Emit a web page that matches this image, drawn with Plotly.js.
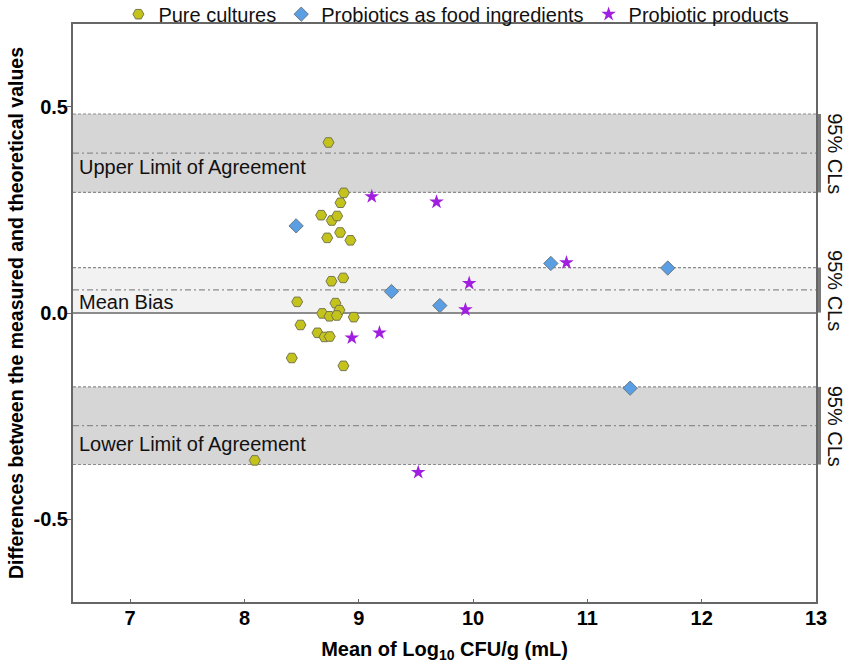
<!DOCTYPE html>
<html>
<head>
<meta charset="utf-8">
<script src="https://cdn.plot.ly/plotly-3.0.1.min.js"></script>
<style>
    html, body { margin: 0; padding: 0; background: #fff; }
    #baPlot { width: 851px; height: 667px; }
</style>
</head>
<body>
<div id="baPlot"></div>
<script>
// === DATA ===
// Pure cultures
const pureX = [8.735, 8.869, 8.840, 8.671, 8.764, 8.811, 8.837, 8.724, 8.927, 8.864,
               8.761, 8.461, 8.796, 8.831, 8.680, 8.744, 8.808, 8.956, 8.490, 8.639,
               8.700, 8.746, 8.414, 8.866, 8.090];
const pureY = [0.413, 0.291, 0.267, 0.237, 0.224, 0.235, 0.195, 0.182, 0.176, 0.085,
               0.077, 0.027, 0.024, 0.007, -0.001, -0.008, -0.006, -0.010, -0.029, -0.048,
               -0.058, -0.057, -0.109, -0.128, -0.357];

// Probiotics as food ingredients
const ingX = [8.452, 9.286, 9.709, 10.680, 11.703, 11.374];
const ingY = [0.211, 0.052, 0.018, 0.120, 0.109, -0.182];

// Probiotic products
const prodX = [9.114, 9.680, 9.966, 9.933, 8.939, 9.181, 10.817, 9.520];
const prodY = [0.282, 0.269, 0.072, 0.008, -0.060, -0.048, 0.122, -0.386];

// Limits of agreement, mean bias and their 95% CLs
const bandNames = ['Upper Limit of Agreement', 'Mean Bias', 'Lower Limit of Agreement'];
const bandLow   = [0.292, 0.001, -0.367];
const bandMid   = [0.387, 0.056, -0.273];
const bandHigh  = [0.482, 0.110, -0.179];

// Axis ticks
const yTickVals = [-0.5, 0, 0.5];
const yTickText = ['-0.5', '0.0', '0.5'];
const xTickVals = [7, 8, 9, 10, 11, 12, 13];

document.addEventListener('DOMContentLoaded', function() {
    buildPlot();
});

// === BUILD CHART ===
function buildPlot() {
    const font = 'Liberation Sans, Arial, Helvetica, sans-serif';
    const edgeColor = '#8c8c8c';

    const tracePure = {
        x: pureX, y: pureY,
        type: 'scatter', mode: 'markers',
        name: 'Pure cultures',
        marker: { symbol: 'hexagon2', size: 11, color: '#c3c31c',
                  line: { color: '#76764e', width: 1 } }
    };
    const traceIng = {
        x: ingX, y: ingY,
        type: 'scatter', mode: 'markers',
        name: 'Probiotics as food ingredients',
        marker: { symbol: 'diamond', size: 11, color: '#5a9fe4',
                  line: { color: '#6b7886', width: 1 } }
    };
    const traceProd = {
        x: prodX, y: prodY,
        type: 'scatter', mode: 'markers',
        name: 'Probiotic products',
        marker: { symbol: 'star', size: 11, color: '#a01ee0',
                  line: { width: 0 } }
    };

    // bands, dashed edges, dash-dot middle lines and the CL bars on the right
    const shapes = [];
    const annotations = [];
    bandNames.forEach((name, i) => {
        const fill = i === 1 ? '#f2f2f2' : '#d6d6d6';
        shapes.push({
            type: 'rect', xref: 'paper', yref: 'y', layer: 'below',
            x0: 0, x1: 1, y0: bandLow[i], y1: bandHigh[i],
            fillcolor: fill, line: { width: 0 }
        });
        [bandLow[i], bandHigh[i]].forEach(v => {
            shapes.push({
                type: 'line', xref: 'paper', yref: 'y', layer: 'below',
                x0: 0, x1: 1, y0: v, y1: v,
                line: { color: edgeColor, width: 1.2, dash: '3px,2px' }
            });
        });
        shapes.push({
            type: 'line', xref: 'paper', yref: 'y', layer: 'below',
            x0: 0, x1: 1, y0: bandMid[i], y1: bandMid[i],
            line: { color: edgeColor, width: 1.2, dash: '6px,3px,2px,3px' }
        });
        shapes.push({
            type: 'line', xref: 'paper', yref: 'y',
            x0: 1.0047, x1: 1.0047, y0: bandLow[i], y1: bandHigh[i],
            line: { color: '#7a7a7a', width: 3 }
        });

        annotations.push({
            xref: 'paper', yref: 'y', x: 0, y: bandMid[i],
            xanchor: 'left', yanchor: 'middle', xshift: 4,
            yshift: [-14, -12, -18][i],
            text: name, showarrow: false,
            font: { family: font, size: 20, color: '#111' }
        });
        annotations.push({
            xref: 'paper', yref: 'y', x: 1, y: (bandLow[i] + bandHigh[i]) / 2,
            xanchor: 'center', yanchor: 'middle', xshift: 19,
            text: '95% CLs', textangle: 90, showarrow: false,
            font: { family: font, size: 20, color: '#111' }
        });
    });

    const layout = {
        width: 851, height: 667,
        margin: { l: 73, r: 35, t: 24, b: 65, autoexpand: false },
        paper_bgcolor: '#ffffff',
        plot_bgcolor: '#ffffff',
        font: { family: font, color: '#000' },
        showlegend: true,
        legend: {
            orientation: 'h',
            x: 0.516, xanchor: 'center',
            y: 1.017, yanchor: 'middle',
            font: { family: font, size: 20, color: '#111' },
            bgcolor: 'rgba(0,0,0,0)'
        },
        xaxis: {
            range: [6.5, 13],
            tickvals: xTickVals,
            ticks: 'inside', ticklen: 3, tickcolor: '#666',
            ticklabelstandoff: -3,
            tickfont: { family: font, size: 20, color: '#000', weight: 'bold' },
            showgrid: false, zeroline: false,
            showline: true, linecolor: '#666', linewidth: 2, mirror: true,
            title: {
                text: 'Mean of Log<sub>10</sub> CFU/g (mL)',
                font: { family: font, size: 20, color: '#000', weight: 'bold' },
                standoff: 14
            }
        },
        yaxis: {
            range: [-0.7, 0.7],
            tickvals: yTickVals,
            ticktext: yTickText,
            ticks: 'outside', ticklen: 4, tickcolor: '#666',
            ticklabelstandoff: -5,
            tickfont: { family: font, size: 20, color: '#000', weight: 'bold' },
            showgrid: false,
            zeroline: true, zerolinecolor: '#8c8c8c', zerolinewidth: 2,
            showline: true, linecolor: '#666', linewidth: 2, mirror: true,
            title: {
                text: 'Differences between the measured and theoretical values',
                font: { family: font, size: 19.5, color: '#000', weight: 'bold' },
                standoff: 5
            }
        },
        shapes: shapes,
        annotations: annotations
    };

    Plotly.newPlot('baPlot', [tracePure, traceIng, traceProd], layout,
                   { displayModeBar: false, staticPlot: true });
}
</script>
</body>
</html>
